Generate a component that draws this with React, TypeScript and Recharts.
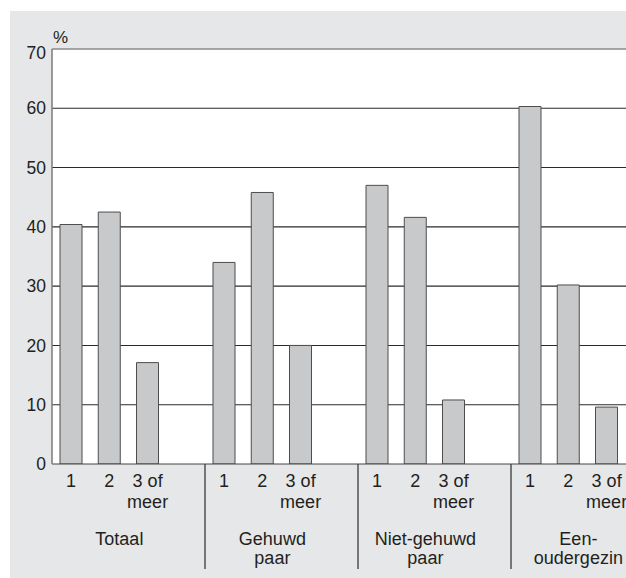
import React from "react";
import { BarChart, Bar, XAxis, YAxis, CartesianGrid, ReferenceLine } from "recharts";

// Data
const groupLabels: string[][] = [
  ["Totaal"],
  ["Gehuwd", "paar"],
  ["Niet-gehuwd", "paar"],
  ["Een-", "oudergezin"],
];
const sizeLabels: string[][] = [["1"], ["2"], ["3 of", "meer"]];
const totaal = [40.4, 42.5, 17.1];
const gehuwdPaar = [34.0, 45.8, 20.0];
const nietGehuwdPaar = [47.0, 41.6, 10.8];
const eenoudergezin = [60.3, 30.2, 9.6];
const yTicks = [0, 10, 20, 30, 40, 50, 60, 70];
const gridValues = [10, 20, 30, 40, 50, 60];

const seriesByGroup = [totaal, gehuwdPaar, nietGehuwdPaar, eenoudergezin];

type Row = { key: string; value: number | null; group: number; slot: number };
const data: Row[] = [];
seriesByGroup.forEach((vals, g) => {
  for (let s = 0; s < 4; s++) {
    data.push({ key: `g${g}s${s}`, value: s < 3 ? vals[s] : null, group: g, slot: s });
  }
});

const FONT = "'Liberation Sans', Arial, Helvetica, sans-serif";
const TEXT = "#231f20";

function XTick(props: any) {
  const { x, y, payload } = props;
  const idx = props.index ?? payload?.index ?? 0;
  const d = data[idx];
  if (!d) return null;
  const half = typeof payload?.offset === "number" && payload.offset > 0 ? payload.offset : 19.125;
  const parts: React.ReactNode[] = [];
  if (d.slot < 3) {
    const lines = sizeLabels[d.slot];
    parts.push(
      <text key="s" x={x} y={y + 22.7} textAnchor="middle" fontSize={18} fontFamily={FONT} fill={TEXT}>
        {lines.map((l, i) => (
          <tspan key={i} x={x} dy={i === 0 ? 0 : 21.6}>
            {l}
          </tspan>
        ))}
      </text>
    );
  }
  if (d.slot === 1) {
    const gl = groupLabels[d.group];
    const cx = x + 10;
    parts.push(
      <text key="g" x={cx} y={y + 81} textAnchor="middle" fontSize={18} fontFamily={FONT} fill={TEXT}>
        {gl.map((l, i) => (
          <tspan key={i} x={cx} dy={i === 0 ? 0 : 19}>
            {l}
          </tspan>
        ))}
      </text>
    );
  }
  if (d.slot === 3) {
    const sx = x + half;
    parts.push(<line key="sep" x1={sx} x2={sx} y1={y} y2={y + 105} stroke="#3a3a3a" strokeWidth={1.3} />);
  }
  return <g>{parts}</g>;
}

function YTick(props: any) {
  const { x, y, payload } = props;
  const shift = payload.value === 70 ? 4 : 0;
  return (
    <text x={x - 6} y={y + shift} dy="0.355em" textAnchor="end" fontSize={17.5} fontFamily={FONT} fill={TEXT}>
      {payload.value}
    </text>
  );
}

const PercentLabel = (props: any) => {
  const vb = props.viewBox || { x: 0, y: 38, width: 42, height: 415 };
  return (
    <text x={vb.x + vb.width + 1} y={vb.y - 5.7} fontSize={17} fontFamily={FONT} fill={TEXT}>
      %
    </text>
  );
};

export default function App() {
  return (
    <div
      style={{
        position: "fixed",
        left: 0,
        top: 0,
        width: 626,
        height: 578,
        overflow: "hidden",
        background: "#ffffff",
      }}
    >
      <div
        style={{
          position: "absolute",
          left: 10,
          top: 11,
          width: 670,
          height: 567,
          background: "#e6e7e8",
        }}
      >
        <BarChart
          width={670}
          height={567}
          data={data}
          margin={{ top: 38, right: 16, left: 0, bottom: 0 }}
          barCategoryGap={0}
        >
          <CartesianGrid
            vertical={false}
            horizontalValues={gridValues}
            stroke="#2a2a2a"
            strokeWidth={1.1}
            fill="#ffffff"
            fillOpacity={1}
          />
          <ReferenceLine y={70} stroke="#8a8a8a" strokeWidth={1.5} />
          <XAxis
            dataKey="key"
            type="category"
            interval={0}
            height={114}
            tickLine={false}
            tickSize={0}
            tickMargin={0}
            axisLine={{ stroke: "#444", strokeWidth: 1.2 }}
            tick={<XTick />}
          />
          <YAxis
            type="number"
            domain={[0, 70]}
            ticks={yTicks}
            width={42}
            tickLine={false}
            tickSize={0}
            tickMargin={0}
            axisLine={{ stroke: "#7a7a7a", strokeWidth: 1.5 }}
            tick={<YTick />}
            label={{ content: PercentLabel }}
            allowDataOverflow
          />
          <Bar
            dataKey="value"
            barSize={22}
            fill="#c8c9cb"
            stroke="#4d4d4d"
            strokeWidth={1}
            isAnimationActive={false}
          />
        </BarChart>
      </div>
    </div>
  );
}
